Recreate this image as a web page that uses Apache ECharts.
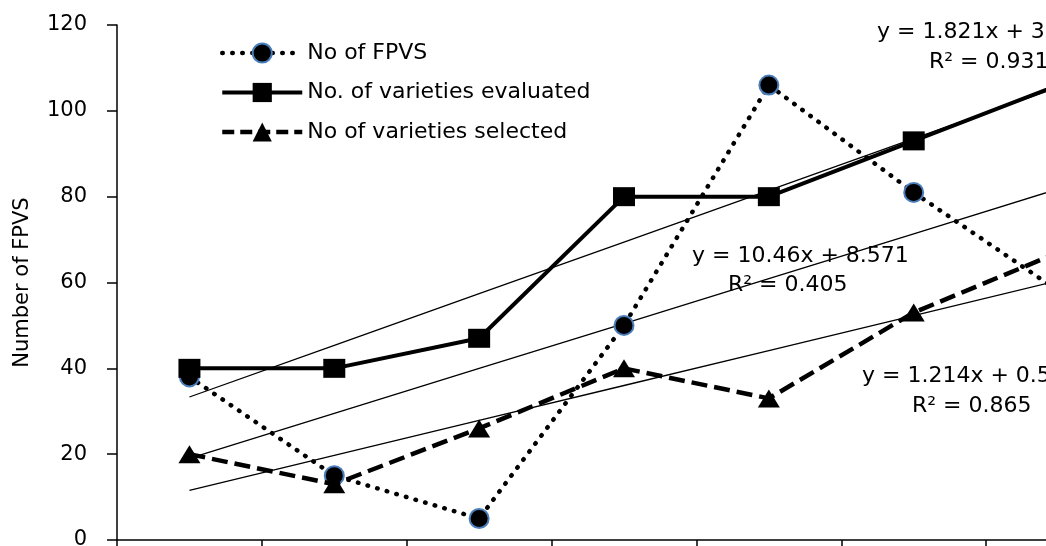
<!DOCTYPE html>
<html><head><meta charset="utf-8">
<script src="https://cdn.jsdelivr.net/npm/echarts@6/dist/echarts.min.js"></script>
<style>html,body{margin:0;padding:0;background:#fff}#c{width:1046px;height:546px}</style>
</head><body><div id="c"></div>
<script>
// ---- data ----
const categories = ['1', '2', '3', '4', '5', '6', '7'];
const fpvs = [38, 15, 5, 50, 106, 81, 58];
const evaluated = [40, 40, 47, 80, 80, 93, 106];
const selected = [20, 13, 26, 40, 33, 53, 67];
const yMin = 0, yMax = 120, yInterval = 20;
const seriesNames = ['No of FPVS', 'No. of varieties evaluated', 'No of varieties selected'];
const yAxisName = 'Number of FPVS';
const trendEq = ['y = 1.821x + 3', 'y = 10.46x + 8.571', 'y = 1.214x + 0.5'];
const trendR2 = ['R\u00B2 = 0.931', 'R\u00B2 = 0.405', 'R\u00B2 = 0.865'];

// linear least-squares trend from a series (x = 1..n)
function trend(v) {
  const n = v.length; let sx = 0, sy = 0, sxx = 0, sxy = 0;
  v.forEach((y, i) => { const x = i + 1; sx += x; sy += y; sxx += x * x; sxy += x * y; });
  const m = (n * sxy - sx * sy) / (n * sxx - sx * sx);
  const b = (sy - m * sx) / n;
  return v.map((_, i) => m * (i + 1) + b);
}

const FONT = 'DejaVu Sans';
const chart = echarts.init(document.getElementById('c'), null, {renderer: 'canvas'});

const trendStyle = {color: '#000', width: 1.3, type: 'solid'};
function trendSeries(v) {
  return {type: 'line', data: trend(v), symbol: 'none', silent: true,
    lineStyle: trendStyle, itemStyle: {color: '#000'}, z: 1, legendHoverLink: false};
}

function label(text, x, y) {
  return {type: 'text', left: x, top: y - 13, silent: true,
    style: {text: text, font: '22px "' + FONT + '"', fill: '#000'}};
}

const dotStyle = {color: '#000', width: 4.5, type: [0.5, 9.5], cap: 'round'};
const solidStyle = {color: '#000', width: 4, type: 'solid'};
const dashStyle = {color: '#000', width: 4.5, type: [16, 7]};
const circleItem = {color: '#000', borderColor: '#4a7ebb', borderWidth: 2};
const blackItem = {color: '#000', borderWidth: 0};

chart.setOption({
  animation: false,
  backgroundColor: '#fff',
  grid: {left: 117, top: 25, width: 1014, height: 515, containLabel: false, outerBoundsMode: 'none'},
  legend: {
    orient: 'vertical', left: 215, top: 37,
    itemWidth: 80, itemHeight: 24, itemGap: 17.5,
    data: [
      {name: seriesNames[0], lineStyle: dotStyle, itemStyle: circleItem},
      {name: seriesNames[1], lineStyle: solidStyle, itemStyle: blackItem},
      {name: seriesNames[2], lineStyle: {color: '#000', width: 4.5, type: [12, 6]}, itemStyle: blackItem}
    ],
    textStyle: {fontFamily: FONT, fontSize: 22, color: '#000', padding: [0, 0, 0, 0]},
    selectedMode: false
  },
  xAxis: {
    type: 'category', data: categories, boundaryGap: true,
    axisLine: {lineStyle: {color: '#000', width: 1.5}},
    axisTick: {show: true, inside: false, length: 7, lineStyle: {color: '#000', width: 1.5}},
    axisLabel: {show: false},
    splitLine: {show: false}
  },
  yAxis: {
    type: 'value', min: yMin, max: yMax, interval: yInterval,
    name: yAxisName, nameLocation: 'middle', nameGap: 84, nameRotate: 90,
    nameTextStyle: {fontFamily: FONT, fontSize: 21, color: '#000'},
    axisLine: {show: true, lineStyle: {color: '#000', width: 1.5}},
    axisTick: {show: true, inside: false, length: 10, lineStyle: {color: '#000', width: 1.5}},
    axisLabel: {margin: 30, fontFamily: FONT, fontSize: 21, color: '#000'},
    splitLine: {show: false}
  },
  graphic: [
    label(trendEq[0], 877, 34), label(trendR2[0], 929, 64),
    label(trendEq[1], 692, 258), label(trendR2[1], 728, 287),
    label(trendEq[2], 862, 378), label(trendR2[2], 912, 408)
  ],
  series: [
    trendSeries(evaluated), trendSeries(fpvs), trendSeries(selected),
    {
      name: seriesNames[0], type: 'line', data: fpvs, z: 3,
      symbol: 'circle', symbolSize: 19,
      lineStyle: dotStyle, itemStyle: circleItem
    },
    {
      name: seriesNames[1], type: 'line', data: evaluated, z: 4,
      symbol: 'rect', symbolSize: [22, 19],
      lineStyle: solidStyle, itemStyle: blackItem
    },
    {
      name: seriesNames[2], type: 'line', data: selected, z: 5,
      symbol: 'triangle', symbolSize: [22, 18],
      lineStyle: dashStyle, itemStyle: blackItem
    }
  ]
});
</script></body></html>
